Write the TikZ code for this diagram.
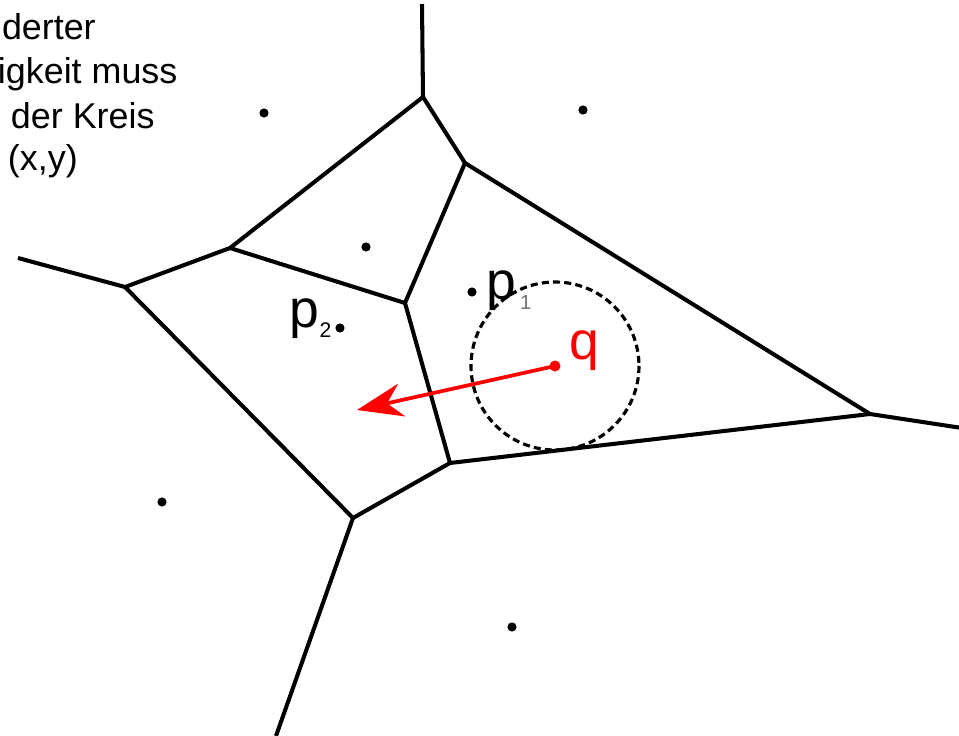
\documentclass[tikz,border=0pt]{standalone}
\usepackage{fontspec}
\setmainfont{Liberation Sans}
\usetikzlibrary{arrows.meta}

\tikzset{
  edge/.style={line width=1.15pt, line join=round},
  site/.style={black},
  searchcircle/.style={line width=0.9pt, dash pattern=on 2pt off 1.2pt},
  qarrow/.style={red, line width=1.05pt, -{Stealth[length=13pt, width=9.5pt]}},
  lbl/.style={anchor=base west, inner sep=0pt, outer sep=0pt}
}

\begin{document}
\begin{tikzpicture}[x=0.01cm, y=-0.01cm]
      \useasboundingbox (0,0) rectangle (959,736);
      % --- Voronoi vertices ---
      \coordinate (v1) at (423,97);
      \coordinate (v2) at (465,163);
      \coordinate (v3) at (230,248);
      \coordinate (v4) at (125,287);
      \coordinate (v5) at (405,303);
      \coordinate (v6) at (450,463);
      \coordinate (v7) at (870,414);
      \coordinate (v8) at (353,518);
      % unbounded edges leave the picture
      \coordinate (top) at (422,4);
      \coordinate (left) at (18,258);
      \coordinate (right) at (962,428);
      \coordinate (bottom) at (276,736);
      % --- Voronoi edges ---
      \draw[edge] (top) -- (v1) -- (v2) -- (v7) -- (right);
      \draw[edge] (v1) -- (v3) -- (v4) -- (left);
      \draw[edge] (v3) -- (v5) -- (v2);
      \draw[edge] (v5) -- (v6) -- (v7);
      \draw[edge] (v4) -- (v8) -- (v6);
      \draw[edge] (v8) -- (bottom);
      % --- Sites ---
      \foreach \x/\y in {264/113, 583/110, 366/247, 472/292, 340/328, 162/502, 512/627} {
        \fill[site] (\x,\y) circle (4.6);
      }
      \node[lbl, font=\fontsize{15.2}{18}\selectfont] (p1) at (487,299)
        {p\kern1pt\lower3.1pt\hbox{\fontsize{5.8}{7}\selectfont\textcolor{black!55}{1}}};
      \node[lbl, font=\fontsize{15.2}{18}\selectfont] (p2) at (290,327)
        {p\lower3.1pt\hbox{\fontsize{6}{7}\selectfont 2}};
      % --- Query point and empty circle ---
      \coordinate (q) at (555,366);
      \draw[searchcircle] (q) circle (84);
      \coordinate (tip) at (357,410);
      \draw[qarrow] (q) -- (tip);
      \fill[red] (q) circle (5.5);
      \node[lbl, red, font=\fontsize{15.2}{18}\selectfont] (qlabel) at (570,359) {q};
      % --- Text (cut at the left border) ---
      \begin{scope}[font=\fontsize{10.2}{12}\selectfont]
        \node[lbl] (t1) at (2,39) {derter};
        \node[lbl] (t2) at (-2,83) {igkeit muss};
        \node[lbl] (t3) at (11,128) {der Kreis};
        \node[lbl] (t4) at (8,170) {(x,y)};
      \end{scope}
    \end{tikzpicture}
\end{document}
